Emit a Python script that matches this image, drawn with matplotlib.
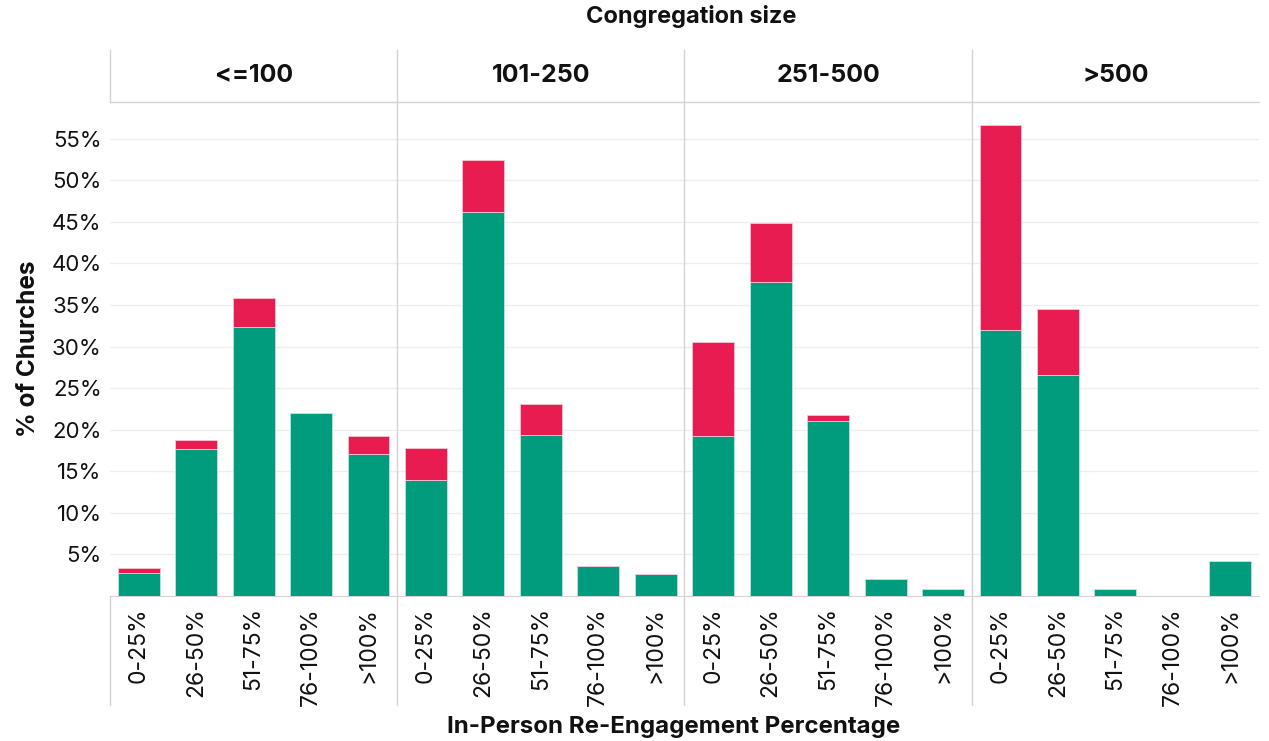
import matplotlib
matplotlib.use("Agg")
import matplotlib.pyplot as plt
from matplotlib.lines import Line2D
import numpy as np

plt.rcParams['font.family'] = ['Inter', 'DejaVu Sans']

sizes = ["<=100", "101-250", "251-500", ">500"]
categories = ["0-25%", "26-50%", "51-75%", "76-100%", ">100%"]
# lower (green) segment, percent
green = {
    "<=100":   [2.8, 17.7, 32.3, 22.0, 17.1],
    "101-250": [14.0, 46.2, 19.3, 3.6, 2.7],
    "251-500": [19.2, 37.7, 21.0, 2.1, 0.8],
    ">500":    [32.0, 26.6, 0.9, 0.0, 4.2],
}
# upper (red) segment, percent
red = {
    "<=100":   [0.6, 1.1, 3.5, 0.0, 2.1],
    "101-250": [3.8, 6.2, 3.8, 0.0, 0.0],
    "251-500": [11.3, 7.1, 0.8, 0.0, 0.0],
    ">500":    [24.6, 7.9, 0.0, 0.0, 0.0],
}
yticks = [5, 10, 15, 20, 25, 30, 35, 40, 45, 50, 55]

GREEN = "#009c7d"
RED = "#e91c51"
LINE = "#d4d4d4"
GRID = "#eeeeee"
TXT = "#111111"

W, H = 1269, 741
fig = plt.figure(figsize=(W / 100, H / 100), dpi=100)

def fx(px):
    return px / W

def fy(py):
    return 1 - py / H

left, right = 110, 1259
top, bottom = 102, 596
header_top = 50
below = 705
pw = (right - left) / 4

x = np.arange(len(categories))
for i, s in enumerate(sizes):
    ax = fig.add_axes([fx(left + i * pw), fy(bottom), fx(pw), fy(top) - fy(bottom)])
    g = np.array(green[s])
    r = np.array(red[s])
    ax.bar(x, g, width=0.73, color=GREEN, edgecolor="#bfe6dc", linewidth=0.6, zorder=3)
    ax.bar(x, r, bottom=g, width=0.73, color=RED, edgecolor="#f7c6d2", linewidth=0.6, zorder=3)
    ax.set_xlim(-0.5, 4.5)
    ax.set_ylim(0, 59.4)
    ax.set_yticks(yticks)
    ax.grid(axis="y", color=GRID, linewidth=1, zorder=0)
    for sp in ["top", "right", "left"]:
        ax.spines[sp].set_visible(False)
    ax.spines["bottom"].set_color(LINE)
    ax.set_xticks(x)
    ax.set_xticklabels(categories, rotation=90, fontsize=16.5, color=TXT)
    ax.tick_params(axis="x", length=0, pad=8)
    ax.tick_params(axis="y", length=0, pad=6)
    if i == 0:
        ax.set_yticklabels([f"{v}%" for v in yticks], fontsize=16, color=TXT)
    else:
        ax.set_yticklabels([])
    # panel header title
    fig.text(fx(left + (i + 0.5) * pw), fy(76), s, ha="center", va="center",
             fontsize=18, fontweight="bold", color=TXT)

# header horizontal line
fig.add_artist(Line2D([fx(left), fx(right)], [fy(top), fy(top)], color=LINE, linewidth=1))
# left edge lines (header and below axis)
fig.add_artist(Line2D([fx(left), fx(left)], [fy(header_top), fy(top)], color=LINE, linewidth=1))
fig.add_artist(Line2D([fx(left), fx(left)], [fy(bottom), fy(below)], color=LINE, linewidth=1))
# panel separators
for i in range(1, 4):
    xx = fx(left + i * pw)
    fig.add_artist(Line2D([xx, xx], [fy(header_top), fy(below)], color=LINE, linewidth=1))

fig.text(fx(691), fy(17), "Congregation size", ha="center", va="center",
         fontsize=17, fontweight="bold", color=TXT)
fig.text(fx(674), fy(727), "In-Person Re-Engagement Percentage", ha="center", va="center",
         fontsize=17.3, fontweight="bold", color=TXT)
fig.text(fx(29), fy(349), "% of Churches", ha="center", va="center", rotation=90,
         fontsize=17.5, fontweight="bold", color=TXT)

fig.savefig("out.png", dpi=100)
